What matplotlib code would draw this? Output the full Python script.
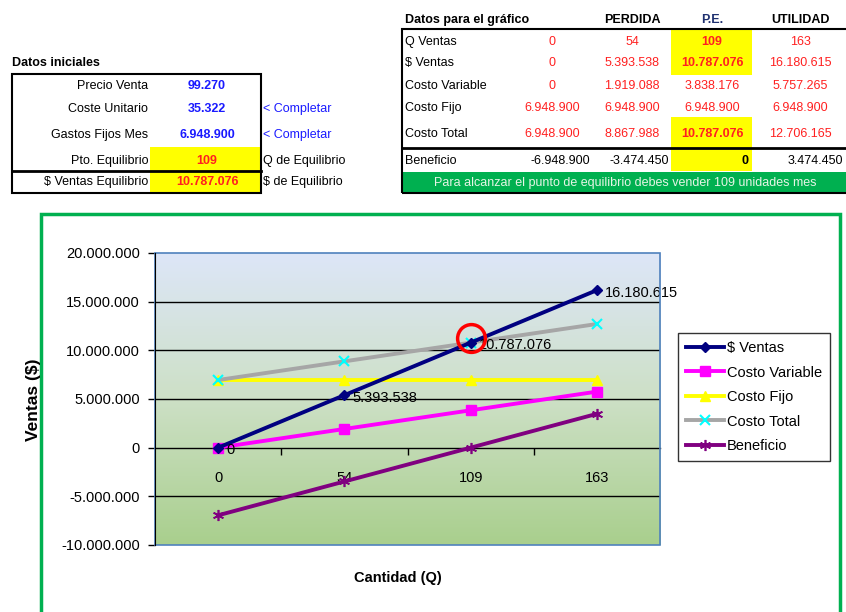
import numpy as np
import matplotlib
matplotlib.use("Agg")
import matplotlib.pyplot as plt
from matplotlib.patches import Rectangle
from matplotlib.colors import LinearSegmentedColormap
from matplotlib.ticker import FixedLocator, FuncFormatter
import matplotlib.transforms as mtrans

plt.rcParams['font.family'] = ['Liberation Sans', 'DejaVu Sans']

# datos iniciales
ini_labels = ["Precio Venta", "Coste Unitario", "Gastos Fijos Mes", "Pto. Equilibrio", "$ Ventas Equilibrio"]
ini_values = [99270, 35322, 6948900, 109, 10787076]
ini_notes = ["", "< Completar", "< Completar", "Q de Equilibrio", "$ de Equilibrio"]

# datos para el grafico
cols = ["", "PERDIDA", "P.E.", "UTILIDAD"]
q = [0, 54, 109, 163]
ventas = [0, 5393538, 10787076, 16180615]
cvar = [0, 1919088, 3838176, 5757265]
cfijo = [6948900, 6948900, 6948900, 6948900]
ctotal = [6948900, 8867988, 10787076, 12706165]
benef = [-6948900, -3474450, 0, 3474450]
mensaje = "Para alcanzar el punto de equilibrio debes vender 109 unidades mes"


def fmt(v):
    return f"{v:,.0f}".replace(",", ".")


W, H = 846, 612
fig = plt.figure(figsize=(W / 100, H / 100), dpi=100)


def fx(x):
    return x / W


def fy(y):
    return 1 - y / H


def txt(x, y, s, ha="left", **kw):
    fig.text(fx(x), fy(y), s, ha=ha, va="center", **kw)


def box(x0, y0, x1, y1, **kw):
    fig.add_artist(Rectangle((fx(x0), fy(y1)), (x1 - x0) / W, (y1 - y0) / H,
                             transform=fig.transFigure, **kw))


FS = 9
blue = "#1a1aff"
red = "#ff2020"

# ---- tabla izquierda ----
txt(12, 63, "Datos iniciales", fontsize=FS, fontweight="bold")
box(150, 147, 261, 193, facecolor="#ffff00", edgecolor="none")
box(12, 74, 261, 193, facecolor="none", edgecolor="black", lw=1.5)
fig.add_artist(plt.Line2D([fx(12), fx(261)], [fy(171), fy(171)], color="black", lw=2))
rows_y = [86, 109, 135, 161, 182]
for i, y in enumerate(rows_y):
    txt(148, y, ini_labels[i], ha="right", fontsize=FS)
    c = blue if i < 3 else red
    txt(207, y, fmt(ini_values[i]), ha="center", fontsize=FS, fontweight="bold", color=c)
    if ini_notes[i]:
        txt(263, y, ini_notes[i], fontsize=FS, color=blue if i < 3 else "black")

# ---- tabla derecha ----
col_x = [552, 632, 712, 800]
txt(405, 20, "Datos para el gráfico", fontsize=FS, fontweight="bold")
for j in range(1, 4):
    txt(col_x[j], 20, cols[j], ha="center", fontsize=FS, fontweight="bold",
        color="#1f3070" if j == 2 else "black")
box(671, 29, 752, 75, facecolor="#ffff00", edgecolor="none")
box(671, 117, 752, 171, facecolor="#ffff00", edgecolor="none")
box(402, 172, 850, 193, facecolor="#00b050", edgecolor="none")
box(402, 29, 850, 193, facecolor="none", edgecolor="black", lw=1.5)
fig.add_artist(plt.Line2D([fx(402), fx(850)], [fy(148), fy(148)], color="black", lw=2))

tabla = [("Q Ventas", q, 42), ("$ Ventas", ventas, 63), ("Costo Variable", cvar, 86),
         ("Costo Fijo", cfijo, 108), ("Costo Total", ctotal, 134)]
for name, vals, y in tabla:
    txt(405, y, name, fontsize=FS)
    for j, v in enumerate(vals):
        bold = (j == 2 and name in ("Q Ventas", "$ Ventas", "Costo Total"))
        txt(col_x[j], y, fmt(v), ha="center", fontsize=FS, color=red,
            fontweight="bold" if bold else "normal")
txt(405, 161, "Beneficio", fontsize=FS)
ben_x = [590, 669, 748, 843]
for j, v in enumerate(benef):
    txt(ben_x[j], 161, fmt(v), ha="right", fontsize=FS,
        fontweight="bold" if j == 2 else "normal")
txt(625, 183, mensaje, ha="center", fontsize=FS, color="#e6f5e6")

# ---- marco del grafico ----
box(41, 214, 840, 640, facecolor="none", edgecolor="#00b050", lw=2.5)

ax = fig.add_axes([fx(155), fy(545), (660 - 155) / W, (545 - 253) / H])
x = np.arange(len(q))

cmap = LinearSegmentedColormap.from_list("g", ["#a9cf8d", "#cde0c6", "#dde6f8"])
grad = np.linspace(0, 1, 256).reshape(-1, 1)
ax.imshow(grad, extent=[-0.5, 3.5, -10e6, 20e6], aspect="auto", cmap=cmap,
          origin="lower", zorder=0)

for yv in [-5e6, 5e6, 10e6, 15e6]:
    ax.axhline(yv, color="black", lw=1, zorder=1)

lw = 2.8
ax.plot(x, ventas, color="#000080", lw=lw, marker="D", ms=5, label="$ Ventas", zorder=5)
ax.plot(x, cvar, color="#ff00ff", lw=lw, marker="s", ms=7, label="Costo Variable", zorder=4)
ax.plot(x, cfijo, color="#ffff00", lw=lw, marker="^", ms=7, label="Costo Fijo", zorder=3)
ax.plot(x, ctotal, color="#a6a6a6", lw=lw, marker="x", ms=7, mec="#00ffff", mew=1.5,
        label="Costo Total", zorder=3)
ax.plot(x, benef, color="#800080", lw=lw, marker=(6, 2, 0), ms=8, mec="#800080", mew=1.2,
        label="Beneficio", zorder=3)

for i, v in enumerate(ventas):
    ax.annotate(fmt(v), (x[i], v), xytext=(6, -2), textcoords="offset points",
                ha="left", va="center", fontsize=10.5, zorder=6)

shift = ax.transData + mtrans.ScaledTranslation(0, 5 / 100, fig.dpi_scale_trans)
ax.plot([x[2]], [ventas[2]], marker="o", ms=20, mfc="none", mec="#ff0000", mew=2.5,
        transform=shift, zorder=7)

ax.set_xlim(-0.5, 3.5)
ax.set_ylim(-10e6, 20e6)
ax.set_yticks(np.arange(-10e6, 20e6 + 1, 5e6))
ax.yaxis.set_major_formatter(FuncFormatter(lambda v, p: fmt(v)))
ax.tick_params(axis="y", labelsize=10.5, length=5, width=1, pad=6)

ax.spines["bottom"].set_position(("data", 0))
ax.spines["bottom"].set_linewidth(1)
ax.spines["top"].set_visible(False)
ax.spines["right"].set_visible(False)
ax.set_xticks(x)
ax.set_xticklabels([str(v) for v in q])
ax.xaxis.set_minor_locator(FixedLocator([0.5, 1.5, 2.5]))
ax.tick_params(axis="x", which="major", length=0, labelsize=10.5, pad=17)
ax.tick_params(axis="x", which="minor", length=5, width=1)
ax.add_patch(Rectangle((0, 0), 1, 1, transform=ax.transAxes, fill=False,
                       edgecolor="#4f81bd", lw=1.2, zorder=8, clip_on=False))
ax.spines["left"].set_zorder(9)

fig.text(fx(33), fy(400), "Ventas ($)", rotation=90, ha="center", va="center",
         fontsize=12.5, fontweight="bold")
txt(398, 578, "Cantidad (Q)", ha="center", fontsize=10.5, fontweight="bold")

leg = fig.legend(loc="upper left", bbox_to_anchor=(fx(678), fy(333)), fontsize=10.5,
                 frameon=True, fancybox=False, edgecolor="black", handlelength=2.6,
                 borderpad=0.55, labelspacing=0.72, handletextpad=0.2, borderaxespad=0)
leg.get_frame().set_linewidth(1)

fig.savefig("out.png", dpi=100)
